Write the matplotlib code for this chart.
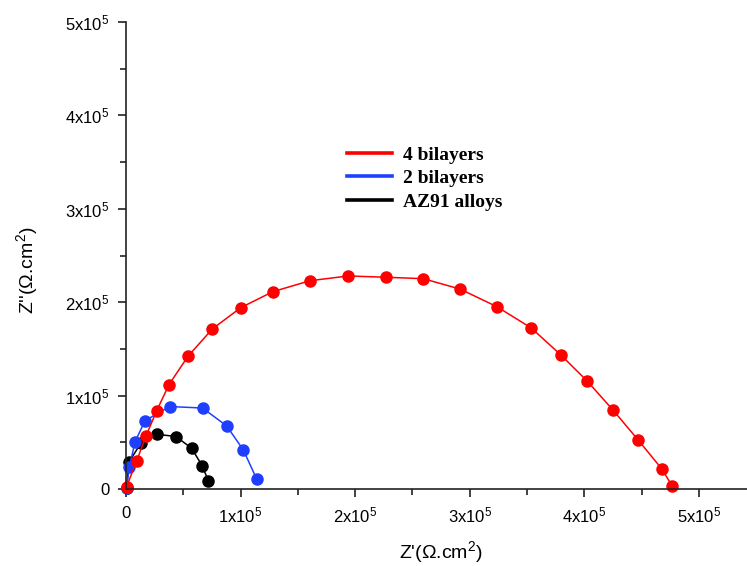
import matplotlib
matplotlib.use("Agg")
import matplotlib.pyplot as plt
from matplotlib.lines import Line2D
from matplotlib.ticker import MultipleLocator, FuncFormatter

plt.rcParams['font.family'] = ['Liberation Sans', 'DejaVu Sans']
plt.rcParams['mathtext.fontset'] = 'custom'
plt.rcParams['mathtext.rm'] = 'Liberation Sans'
plt.rcParams['mathtext.it'] = 'Liberation Sans:italic'
plt.rcParams['mathtext.default'] = 'regular'

# Data (units of 1e5 ohm.cm2)
red_x = [0.005, 0.093, 0.175, 0.268, 0.375, 0.541, 0.753, 1.001, 1.280, 1.606, 1.940,
         2.269, 2.594, 2.915, 3.237, 3.537, 3.793, 4.025, 4.252, 4.470, 4.677, 4.767]
red_y = [0.025, 0.300, 0.570, 0.838, 1.117, 1.421, 1.713, 1.941, 2.112, 2.230, 2.281,
         2.267, 2.252, 2.141, 1.952, 1.724, 1.438, 1.156, 0.843, 0.525, 0.214, 0.032]

blue_x = [0.005, 0.029, 0.079, 0.166, 0.380, 0.668, 0.879, 1.024, 1.139]
blue_y = [0.015, 0.232, 0.506, 0.731, 0.883, 0.867, 0.675, 0.418, 0.111]

black_x = [0.005, 0.026, 0.131, 0.268, 0.436, 0.573, 0.666, 0.718]
black_y = [0.015, 0.289, 0.493, 0.586, 0.562, 0.436, 0.246, 0.089]

labels = ["4 bilayers", "2 bilayers", "AZ91 alloys"]
colors = ["#ff0000", "#1f3fff", "#000000"]

scale = 1e5

fig = plt.figure(figsize=(7.47, 5.66), dpi=100)
ax = fig.add_axes([126/747, 77/566, 621/747, 467/566])

for xs, ys, c in [(black_x, black_y, colors[2]), (blue_x, blue_y, colors[1]), (red_x, red_y, colors[0])]:
    ax.plot([v*scale for v in xs], [v*scale for v in ys], color=c, lw=1.1,
            marker='o', markersize=8, clip_on=False)

ax.set_xlim(0, 5.42e5)
ax.set_ylim(0, 5e5)

for s in ['top', 'right']:
    ax.spines[s].set_visible(False)
for s in ['left', 'bottom']:
    ax.spines[s].set_linewidth(1.2)
    ax.spines[s].set_color('#222222')

ax.xaxis.set_major_locator(MultipleLocator(1e5))
ax.xaxis.set_minor_locator(MultipleLocator(0.5e5))
ax.yaxis.set_major_locator(MultipleLocator(1e5))
ax.yaxis.set_minor_locator(MultipleLocator(0.5e5))

def fmt(v, pos):
    n = int(round(v / 1e5))
    if n == 0:
        return "0"
    return f"{n}x10$^{{5}}$"

ax.xaxis.set_major_formatter(FuncFormatter(fmt))
ax.yaxis.set_major_formatter(FuncFormatter(fmt))
ax.tick_params(which='major', length=6, width=1.2, labelsize=12, pad=6, color='#222222')
ax.tick_params(which='minor', length=4, width=1.2, color='#222222')

ax.set_xlabel("Z'(Ω.cm$^{2}$)", fontsize=14)
ax.set_ylabel("Z''(Ω.cm$^{2}$)", fontsize=14)
ax.xaxis.set_label_coords(441/747, 1 - 552/566, transform=fig.transFigure)
ax.yaxis.set_label_coords(27/747, 1 - 270/566, transform=fig.transFigure)
ax.xaxis.label.set_va('center')
ax.yaxis.label.set_va('center')

handles = [Line2D([], [], color=c, lw=2.6) for c in colors]
ax.legend(handles, labels, loc='upper left', bbox_to_anchor=(347/747, 1 - 146/566),
          bbox_transform=fig.transFigure, frameon=False, borderpad=0, borderaxespad=0,
          handlelength=2.3, handletextpad=0.6, labelspacing=0.3,
          prop={'family': 'Liberation Serif', 'weight': 'bold', 'size': 14})

fig.savefig("out.png", dpi=100)
